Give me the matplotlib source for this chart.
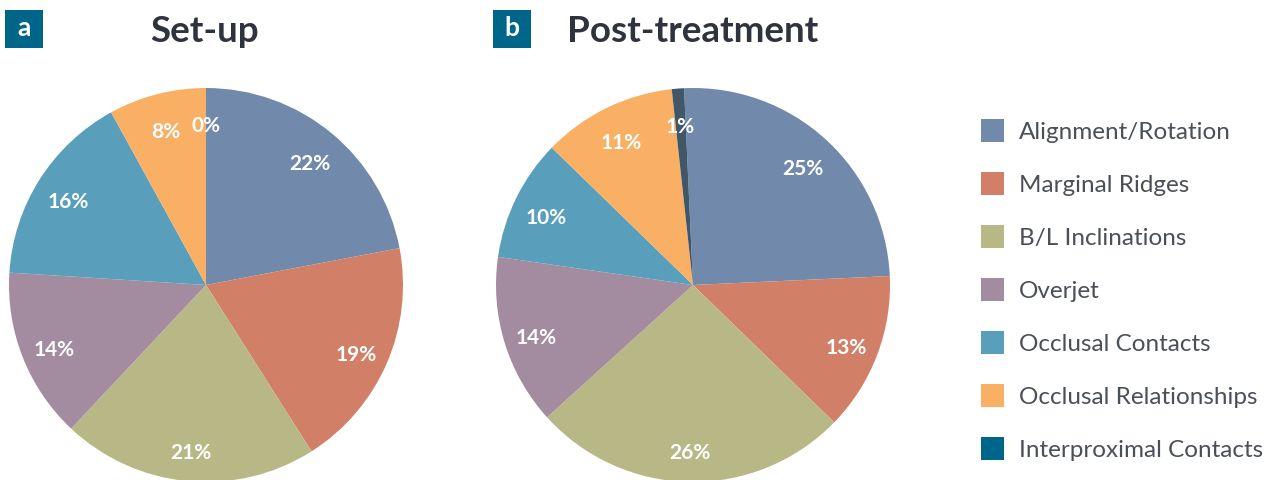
import matplotlib
matplotlib.use("Agg")
import matplotlib.pyplot as plt
import matplotlib.transforms as mtransforms
from matplotlib.patches import Rectangle

categories = ["Alignment/Rotation", "Marginal Ridges", "B/L Inclinations", "Overjet",
              "Occlusal Contacts", "Occlusal Relationships", "Interproximal Contacts"]
setup_values = [22, 19, 21, 14, 16, 8, 0]
post_values = [25, 13, 26, 14, 10, 11, 1]
panel_letters = ["a", "b"]
panel_titles = ["Set-up", "Post-treatment"]

colors = ["#7189aa", "#d27f68", "#b8b886", "#a38c9f", "#599fbb", "#f9b064", "#006689"]
pie_colors = colors[:-1] + ["#3f5769"]

W, H = 1271, 480
fig = plt.figure(figsize=(W / 100, H / 100), dpi=100)
fig.patch.set_facecolor("white")
FONT = "Lato"

def add_pie(values, cx, cy, r, start):
    ax = fig.add_axes([(cx - r) / W, (H - cy - r) / H, 2 * r / W, 2 * r / H])
    _, _, autotexts = ax.pie(values, colors=pie_colors, startangle=start, counterclock=False,
           radius=1, autopct=lambda p: f"{p:.0f}%", pctdistance=0.83,
           wedgeprops=dict(linewidth=0),
           textprops=dict(color="white", fontsize=15, fontweight="bold", family=FONT))
    shift = mtransforms.ScaledTranslation(0, -0.05, fig.dpi_scale_trans)
    for t in autotexts:
        t.set_transform(t.get_transform() + shift)
    ax.set_xlim(-1, 1)
    ax.set_ylim(-1, 1)
    ax.set_aspect("equal")
    ax.axis("off")

add_pie(setup_values, 206, 285, 197, 90)
add_pie(post_values, 693, 285, 197, 92.6)

ov = fig.add_axes([0, 0, 1, 1])
ov.set_xlim(0, W)
ov.set_ylim(H, 0)
ov.axis("off")
ov.patch.set_alpha(0)

# panel letters and titles
for letter, bx, title, tx in zip(panel_letters, [5, 493], panel_titles, [205, 693]):
    ov.add_patch(Rectangle((bx, 10), 38, 38, facecolor="#006689", edgecolor="none"))
    ov.text(bx + 19, 28, letter, color="white", fontsize=19, fontweight="bold",
            family=FONT, ha="center", va="center")
    ov.text(tx, 31, title, color="#2e333d", fontsize=26.5, fontweight="bold",
            family=FONT, ha="center", va="center")

# legend
for i, (cat, col) in enumerate(zip(categories, colors)):
    y = 119 + i * 53
    ov.add_patch(Rectangle((981, y), 23, 23, facecolor=col, edgecolor="none"))
    ov.text(1019, y + 13.5, cat, color="#4a4f58", fontsize=17.5, family=FONT,
            ha="left", va="center")

fig.savefig("out.png", dpi=100)
